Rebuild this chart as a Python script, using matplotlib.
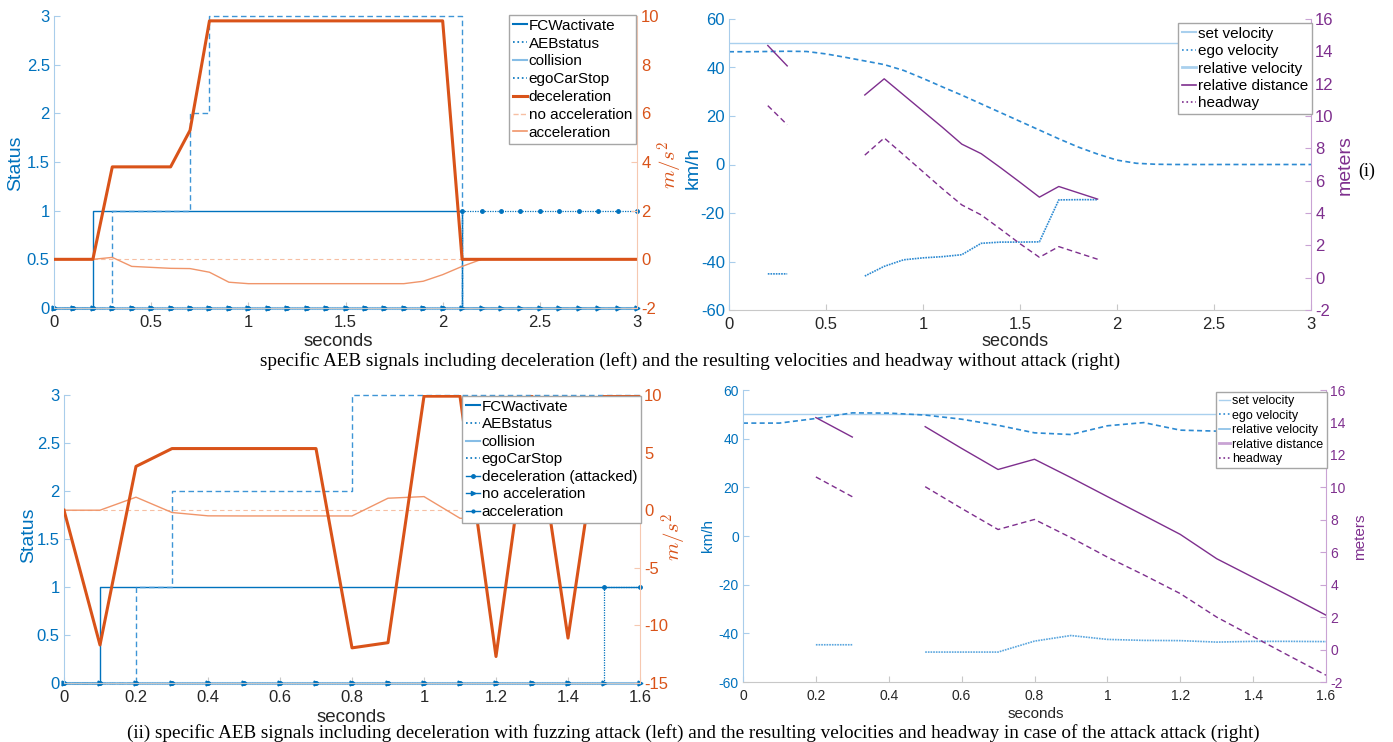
import numpy as np
import matplotlib
matplotlib.use("Agg")
import matplotlib.pyplot as plt
from matplotlib.lines import Line2D
from matplotlib.ticker import FuncFormatter

plt.rcParams['font.family'] = ['Liberation Sans', 'DejaVu Sans']
plt.rcParams['mathtext.fontset'] = 'cm'

nan = np.nan

# ------------------------------------------------------------------
# data (i): no attack, samples every 0.1 s from 0 to 3 s
# ------------------------------------------------------------------
t_a = np.linspace(0, 3, 31)
fcw_a = [0, 0, 1, 1, 1, 1, 1, 1, 1, 1, 1, 1, 1, 1, 1, 1,
         1, 1, 1, 1, 1, 0, 0, 0, 0, 0, 0, 0, 0, 0, 0]
aeb_a = [0, 0, 0, 1, 1, 1, 1, 2, 3, 3, 3, 3, 3, 3, 3, 3,
         3, 3, 3, 3, 3, 0, 0, 0, 0, 0, 0, 0, 0, 0, 0]
coll_a = [0, 0, 0, 0, 0, 0, 0, 0, 0, 0, 0, 0, 0, 0, 0, 0,
          0, 0, 0, 0, 0, 0, 0, 0, 0, 0, 0, 0, 0, 0, 0]
stop_a = [0, 0, 0, 0, 0, 0, 0, 0, 0, 0, 0, 0, 0, 0, 0, 0,
          0, 0, 0, 0, 0, 1, 1, 1, 1, 1, 1, 1, 1, 1, 1]
decel_a = [0, 0, 0, 3.8, 3.8, 3.8, 3.8, 5.3, 9.8, 9.8, 9.8, 9.8, 9.8, 9.8, 9.8, 9.8,
           9.8, 9.8, 9.8, 9.8, 9.8, 0, 0, 0, 0, 0, 0, 0, 0, 0, 0]
noacc_a = [0, 0, 0, 0, 0, 0, 0, 0, 0, 0, 0, 0, 0, 0, 0, 0,
           0, 0, 0, 0, 0, 0, 0, 0, 0, 0, 0, 0, 0, 0, 0]
accel_a = [0, 0, 0, 0.08, -0.29, -0.33, -0.37, -0.38, -0.53, -0.94, -1.0, -1.0, -1.0, -1.0, -1.0, -1.0,
           -1.0, -1.0, -1.0, -0.9, -0.63, -0.29, 0, 0, 0, 0, 0, 0, 0, 0, 0]

setvel_a = [50, 50, 50, 50, 50, 50, 50, 50, 50, 50, 50, 50, 50, 50, 50, 50,
            50, 50, 50, 50, 50, 50, 50, 50, 50, 50, 50, 50, 50, 50, 50]
egovel_a = [46.5, 46.5, 46.6, 46.7, 46.6, 45.6, 44.2, 42.7, 41.2, 38.8, 35.5, 32.0, 28.6, 25.0, 21.4, 17.8,
            14.2, 10.6, 7.2, 4.3, 1.8, 0.5, 0.1, 0, 0, 0, 0, 0, 0, 0, 0]
relvel_a = [nan, nan, -45.1, -45.1, nan, nan, nan, -46.0, -42.0, -39.3, -38.5, -38.0, -37.2, -32.5, -32.0, -32.0,
            -31.9, -14.6, -14.5, -14.5, nan, nan, nan, nan, nan, nan, nan, nan, nan, nan, nan]
reldist_a = [nan, nan, 14.36, 13.1, nan, nan, nan, 11.3, 12.3, 11.3, 10.3, 9.3, 8.26, 7.67, 6.8, 5.9,
             4.98, 5.64, 5.25, 4.86, nan, nan, nan, nan, nan, nan, nan, nan, nan, nan, nan]
headway_a = [nan, nan, 10.64, 9.46, nan, nan, nan, 7.58, 8.64, 7.6, 6.55, 5.5, 4.5, 3.88, 3.0, 2.1,
             1.26, 1.92, 1.53, 1.14, nan, nan, nan, nan, nan, nan, nan, nan, nan, nan, nan]

# ------------------------------------------------------------------
# data (ii): fuzzing attack, samples every 0.1 s from 0 to 1.6 s
# ------------------------------------------------------------------
t_b = np.linspace(0, 1.6, 17)
fcw_b = [0, 1, 1, 1, 1, 1, 1, 1, 1, 1, 1, 1, 1, 1, 1, 1, 1]
aeb_b = [0, 0, 1, 2, 2, 2, 2, 2, 3, 3, 3, 3, 3, 3, 3, 3, 3]
coll_b = [0, 0, 0, 0, 0, 0, 0, 0, 0, 0, 0, 0, 0, 0, 0, 0, 0]
stop_b = [0, 0, 0, 0, 0, 0, 0, 0, 0, 0, 0, 0, 0, 0, 0, 1, 1]
decel_b = [0, -11.7, 3.8, 5.35, 5.35, 5.35, 5.35, 5.35, -11.95, -11.5, 9.9, 9.9, -12.7, 9.9, -11.1, 9.9, 9.9]
noacc_b = [0, 0, 0, 0, 0, 0, 0, 0, 0, 0, 0, 0, 0, 0, 0, 0, 0]
accel_b = [0, 0, 1.13, -0.2, -0.49, -0.5, -0.5, -0.5, -0.5, 1.04, 1.18, -0.7, -0.8, -0.4, -0.6, 0.2, 0.2]

setvel_b = [50, 50, 50, 50, 50, 50, 50, 50, 50, 50, 50, 50, 50, 50, 50, 50, 50]
egovel_b = [46.4, 46.4, 48.3, 50.6, 50.5, 49.7, 48.0, 45.5, 42.4, 41.7, 45.3, 46.6, 43.5, 43.1, 43.5, 44.0, 44.8]
relvel_b = [nan, nan, -44.7, -44.7, nan, -47.7, -47.7, -47.7, -43.2, -40.9, -42.5, -42.9, -43.0, -43.6, -43.3, -43.3, -43.4]
reldist_b = [nan, nan, 14.3, 13.1, nan, 13.74, 12.4, 11.1, 11.73, 10.6, 9.43, 8.27, 7.1, 5.6, 4.45, 3.3, 2.12]
headway_b = [nan, nan, 10.64, 9.42, nan, 10.04, 8.7, 7.4, 8.02, 6.9, 5.7, 4.6, 3.45, 2.0, 0.8, -0.4, -1.58]

status_ticks = [0, 0.5, 1, 1.5, 2, 2.5, 3]
kmh_ticks = [-60, -40, -20, 0, 20, 40, 60]
meter_ticks = [-2, 0, 2, 4, 6, 8, 10, 12, 14, 16]

# ------------------------------------------------------------------
# colours
# ------------------------------------------------------------------
BLUE = '#0072BD'
LBLUE = '#86BDE6'
SETBLUE = '#A9D0EE'
ORANGE = '#D95319'
ACC = '#F0956A'
NOACC = '#F7BFA3'
PURPLE = '#7E2F8E'
LPURPLE = '#C9A3D4'
SP_BLUE = '#A9CDEB'
SP_ORANGE = '#F6C8B0'
SP_GRAY = '#C8C8C8'

W, H = 1393, 742
fig = plt.figure(figsize=(W / 100, H / 100), dpi=100)


def px_ax(l, t, r, b):
    return fig.add_axes([l / W, 1 - b / H, (r - l) / W, (b - t) / H])


def ftext(x, y, s, **kw):
    fig.text(x / W, 1 - y / H, s, ha='center', va='center', **kw)


gfmt = FuncFormatter(lambda v, p: '%g' % v)


def style(ax, ax2, lcol, rcol, rspine, fs):
    ax.spines['top'].set_visible(False)
    ax.spines['right'].set_visible(False)
    ax.spines['left'].set_color(SP_BLUE)
    ax.spines['bottom'].set_color(SP_GRAY)
    for s in ['top', 'left', 'bottom']:
        ax2.spines[s].set_visible(False)
    ax2.spines['right'].set_color(rspine)
    ax.tick_params(axis='y', direction='in', color=SP_BLUE, labelcolor=lcol,
                   labelsize=fs, length=4, pad=3)
    ax.tick_params(axis='x', direction='in', color=SP_GRAY, labelcolor='#262626',
                   labelsize=fs, length=4, pad=5)
    ax2.tick_params(axis='y', direction='in', color=rspine, labelcolor=rcol,
                    labelsize=fs, length=4, pad=3)
    ax.xaxis.set_major_formatter(gfmt)
    ax.yaxis.set_major_formatter(gfmt)
    ax2.yaxis.set_major_formatter(gfmt)


def status_panel(box, t, fcw, aeb, coll, stop, decel, noacc, accel, rlim, rticks, fs):
    ax = px_ax(*box)
    ax2 = ax.twinx()
    ax.plot(t, coll, color=LBLUE, lw=2.2, drawstyle='steps-post', marker='>', ms=3.5,
            mfc=BLUE, mec=BLUE, clip_on=False)
    ax.plot(t, fcw, color=BLUE, lw=1.0, drawstyle='steps-post', clip_on=False)
    ax.plot(t, aeb, color='#3E95D6', lw=1.0, ls=(0, (4, 2.5)), drawstyle='steps-post', clip_on=False)
    ax.plot(t, stop, color=BLUE, lw=0.9, ls=(0, (1, 1)), drawstyle='steps-post', marker='.', ms=5,
            clip_on=False)
    ax2.plot(t, noacc, color=NOACC, lw=0.8, ls=(0, (4, 3)))
    ax2.plot(t, accel, color=ACC, lw=1.0)
    ax2.plot(t, decel, color=ORANGE, lw=2.2)
    ax.set_xlim(t[0], t[-1])
    ax.set_ylim(0, 3)
    ax.set_yticks(status_ticks)
    ax2.set_ylim(*rlim)
    ax2.set_yticks(rticks)
    style(ax, ax2, BLUE, ORANGE, SP_ORANGE, fs)
    handles = [
        Line2D([], [], color=BLUE, lw=1.5),
        Line2D([], [], color=BLUE, lw=1.2, ls=':'),
        Line2D([], [], color=LBLUE, lw=1.5),
        Line2D([], [], color=BLUE, lw=1.2, ls=':'),
    ]
    return ax, ax2, handles


def legend(ax, handles, labels, x, y, fs, spacing):
    leg = ax.legend(handles, labels, loc='upper left', bbox_to_anchor=(x / W, 1 - y / H),
                    bbox_transform=fig.transFigure, borderaxespad=0, fontsize=fs,
                    handlelength=0.9, handletextpad=0.15, borderpad=0.25, labelspacing=spacing,
                    fancybox=False, framealpha=1, edgecolor='#A6A6A6')
    leg.get_frame().set_linewidth(1.0)
    return leg


# ---------------- panel (i) left ----------------
ax1, ax1r, h1 = status_panel((54, 16, 637, 308), t_a, fcw_a, aeb_a, coll_a, stop_a,
                             decel_a, noacc_a, accel_a, (-2, 10), [-2, 0, 2, 4, 6, 8, 10], 12)
ax1.set_xticks([0, 0.5, 1, 1.5, 2, 2.5, 3])
h1 += [Line2D([], [], color=ORANGE, lw=2.2),
       Line2D([], [], color=NOACC, lw=1, ls='--'),
       Line2D([], [], color=ACC, lw=1.2)]
legend(ax1r, h1, ['FCWactivate', 'AEBstatus', 'collision', 'egoCarStop',
                  'deceleration', 'no acceleration', 'acceleration'], 509, 15, 11, 0.25)

# ---------------- panel (i) right ----------------
ax2 = px_ax(729, 19, 1311, 310)
ax2r = ax2.twinx()
ax2.plot(t_a, setvel_a, color=SETBLUE, lw=1.0)
ax2.plot(t_a, egovel_a, color='#2C8AD2', lw=1.2, ls=(0, (3, 2)))
ax2.plot(t_a, relvel_a, color='#2C8AD2', lw=1.2, ls=(0, (1, 0.6)))
ax2r.plot(t_a, reldist_a, color=PURPLE, lw=1.0)
ax2r.plot(t_a, headway_a, color=PURPLE, lw=1.0, ls=(0, (4, 2.5)))
ax2.set_xlim(0, 3)
ax2.set_xticks([0, 0.5, 1, 1.5, 2, 2.5, 3])
ax2.set_ylim(-60, 60)
ax2.set_yticks(kmh_ticks)
ax2r.set_ylim(-2, 16)
ax2r.set_yticks(meter_ticks)
style(ax2, ax2r, BLUE, PURPLE, LPURPLE, 12)
h2 = [Line2D([], [], color=SETBLUE, lw=1.5),
      Line2D([], [], color='#2C8AD2', lw=1.2, ls=':'),
      Line2D([], [], color=SETBLUE, lw=2),
      Line2D([], [], color=PURPLE, lw=1.2),
      Line2D([], [], color=PURPLE, lw=1.2, ls=':')]
legend(ax2r, h2, ['set velocity', 'ego velocity', 'relative velocity',
                  'relative distance', 'headway'], 1178, 23, 11, 0.22)

# ---------------- panel (ii) left ----------------
ax3, ax3r, h3 = status_panel((64, 395, 640, 683), t_b, fcw_b, aeb_b, coll_b, stop_b,
                             decel_b, noacc_b, accel_b, (-15, 10), [-15, -10, -5, 0, 5, 10], 12)
ax3.set_xticks([0, 0.2, 0.4, 0.6, 0.8, 1, 1.2, 1.4, 1.6])
h3 += [Line2D([], [], color=BLUE, lw=1, marker='.', ms=5),
       Line2D([], [], color=BLUE, lw=1, marker='>', ms=3),
       Line2D([], [], color=BLUE, lw=1, marker='.', ms=4)]
legend(ax3r, h3, ['FCWactivate', 'AEBstatus', 'collision', 'egoCarStop',
                  'deceleration (attacked)', 'no acceleration', 'acceleration'], 462, 396, 11, 0.23)

# ---------------- panel (ii) right ----------------
ax4 = px_ax(743, 390, 1326, 682)
ax4r = ax4.twinx()
ax4.plot(t_b, setvel_b, color=SETBLUE, lw=1.0)
ax4.plot(t_b, egovel_b, color='#2C8AD2', lw=1.2, ls=(0, (3, 2)))
ax4.plot(t_b, relvel_b, color='#5AA6DE', lw=1.2, ls=(0, (1, 0.6)))
ax4r.plot(t_b, reldist_b, color=PURPLE, lw=1.0)
ax4r.plot(t_b, headway_b, color=PURPLE, lw=1.0, ls=(0, (4, 2.5)))
ax4.set_xlim(0, 1.6)
ax4.set_xticks([0, 0.2, 0.4, 0.6, 0.8, 1, 1.2, 1.4, 1.6])
ax4.set_ylim(-60, 60)
ax4.set_yticks(kmh_ticks)
ax4r.set_ylim(-2, 16)
ax4r.set_yticks(meter_ticks)
style(ax4, ax4r, BLUE, PURPLE, LPURPLE, 10)
h4 = [Line2D([], [], color=SETBLUE, lw=1),
      Line2D([], [], color='#2C8AD2', lw=1.2, ls=':'),
      Line2D([], [], color=LBLUE, lw=1.2),
      Line2D([], [], color=LPURPLE, lw=2),
      Line2D([], [], color=PURPLE, lw=1.2, ls=':')]
legend(ax4r, h4, ['set velocity', 'ego velocity', 'relative velocity',
                  'relative distance', 'headway'], 1216, 392, 9, 0.2)

# ---------------- axis labels and captions ----------------
ftext(16, 163, 'Status', rotation=90, color=BLUE, fontsize=14)
ftext(670, 165, r'$m/s^2$', rotation=90, color=ORANGE, fontsize=15)
ftext(693, 168, 'km/h', rotation=90, color=BLUE, fontsize=14)
ftext(1345, 165, 'meters', rotation=90, color=PURPLE, fontsize=14)
ftext(29, 535, 'Status', rotation=90, color=BLUE, fontsize=14)
ftext(674, 537, r'$m/s^2$', rotation=90, color=ORANGE, fontsize=15)
ftext(708, 536, 'km/h', rotation=90, color=BLUE, fontsize=11)
ftext(1360, 537, 'meters', rotation=90, color=PURPLE, fontsize=11)

ftext(338, 342, 'seconds', fontsize=13.5, color='#262626')
ftext(1015, 341, 'seconds', fontsize=13, color='#262626')
ftext(351, 717, 'seconds', fontsize=13.5, color='#262626')
ftext(1036, 714, 'seconds', fontsize=11, color='#262626')

serif = ['Liberation Serif', 'DejaVu Serif']
ftext(1367, 171, '(i)', fontsize=13, family=serif)
ftext(690, 361, 'specific AEB signals including deceleration (left) and the resulting velocities '
      'and headway without attack (right)', fontsize=13.8, family=serif)
ftext(693, 733, '(ii) specific AEB signals including deceleration with fuzzing attack (left) and the '
      'resulting velocities and headway in case of the attack attack (right)', fontsize=13.8, family=serif)

fig.savefig('out.png', dpi=100)
